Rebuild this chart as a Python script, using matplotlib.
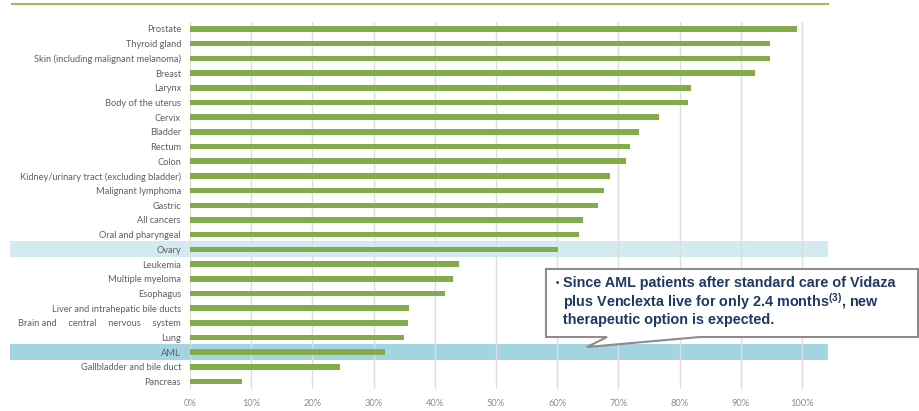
import matplotlib
matplotlib.use("Agg")
import matplotlib.pyplot as plt
from matplotlib.patches import Polygon, Rectangle
from matplotlib.transforms import blended_transform_factory
import numpy as np

# 5-year relative survival by cancer site (%), top to bottom as shown
sites = [
    "Prostate", "Thyroid gland", "Skin (including malignant melanoma)", "Breast",
    "Larynx", "Body of the uterus", "Cervix", "Bladder", "Rectum", "Colon",
    "Kidney/urinary tract (excluding bladder)", "Malignant lymphoma", "Gastric",
    "All cancers", "Oral and pharyngeal", "Ovary", "Leukemia", "Multiple myeloma",
    "Esophagus", "Liver and intrahepatic bile ducts",
    "Brain and     central     nervous     system", "Lung", "AML",
    "Gallbladder and bile duct", "Pancreas",
]
survival = [
    99.2, 94.8, 94.7, 92.4, 81.9, 81.4, 76.6, 73.4, 71.9, 71.3,
    68.7, 67.6, 66.7, 64.2, 63.6, 60.1, 44.0, 42.9, 41.6, 35.8,
    35.6, 34.9, 31.8, 24.5, 8.5,
]
xticks = [0, 10, 20, 30, 40, 50, 60, 70, 80, 90, 100]
highlight = {"Ovary": "#D4EAF1", "AML": "#A3D4E2"}

note_lines = [
    "Since AML patients after standard care of Vidaza",
    r"plus Venclexta live for only 2.4 months$^{\mathbf{(3)}}$, new",
    "therapeutic option is expected.",
]

plt.rcParams["mathtext.fontset"] = "custom"
plt.rcParams["mathtext.bf"] = "Liberation Sans:bold"
plt.rcParams["mathtext.rm"] = "Liberation Sans:bold"

W, H = 920, 411
fig = plt.figure(figsize=(W / 100, H / 100), dpi=100)
ax = fig.add_axes([190 / W, 1 - 389 / H, (828 - 190) / W, (389 - 21.6) / H])

y = np.arange(len(sites))
ax.barh(y, survival, height=0.38, color="#84AC4C", zorder=1)
ax.set_xlim(0, 104.25)
ax.set_ylim(len(sites) - 0.5, -0.5)

# highlighted rows stretch into the label area
trans = blended_transform_factory(ax.transAxes, ax.transData)
x0 = (10 - 190) / (828 - 190)
for name, col in highlight.items():
    i = sites.index(name)
    ax.add_patch(Rectangle((x0, i - 0.54), 1 - x0, 1.08, transform=trans,
                           facecolor=col, edgecolor="none", clip_on=False, zorder=0.2))

ax.set_axisbelow(True)
ax.set_xticks(xticks)
ax.set_xticklabels([f"{t}%" for t in xticks])
ax.set_yticks(y)
ax.set_yticklabels(sites)
ax.grid(axis="x", color="#DDDDDD", linewidth=1)
ax.tick_params(axis="both", length=0, labelsize=6.7, colors="#5F5F5F")
ax.tick_params(axis="y", pad=6.5)
ax.tick_params(axis="x", pad=7, colors="#8C8C8C")
for lbl in ax.get_xticklabels() + ax.get_yticklabels():
    lbl.set_fontfamily("Lato")
for s in ax.spines.values():
    s.set_visible(False)

# green rule at the top
fig.add_artist(plt.Line2D([12 / W, 828 / W], [1 - 4 / H, 1 - 4 / H],
                          color="#9BBB59", linewidth=1.5))

# callout box with pointer
L, R, T, B = 546, 918, 269, 337
pts = [(L, T), (R, T), (R, B), (700, B), (587, 347), (607, B), (L, B)]
fig.add_artist(Polygon([(px / W, 1 - py / H) for px, py in pts], closed=True,
                       facecolor="white", edgecolor="#8C8C8C", linewidth=1.5,
                       transform=fig.transFigure, zorder=5))
fig.text(555.5 / W, 1 - 283 / H, "•", fontsize=7, color="#1F3864",
         family="Liberation Sans", fontweight="bold", va="center", zorder=6)
for k, line in enumerate(note_lines):
    fig.text(563 / W, 1 - (283.5 + 18.3 * k) / H, line, fontsize=10.4, color="#1F3864",
             family="Liberation Sans", fontweight="bold", va="center", zorder=6)

fig.savefig("out.png", dpi=100)
